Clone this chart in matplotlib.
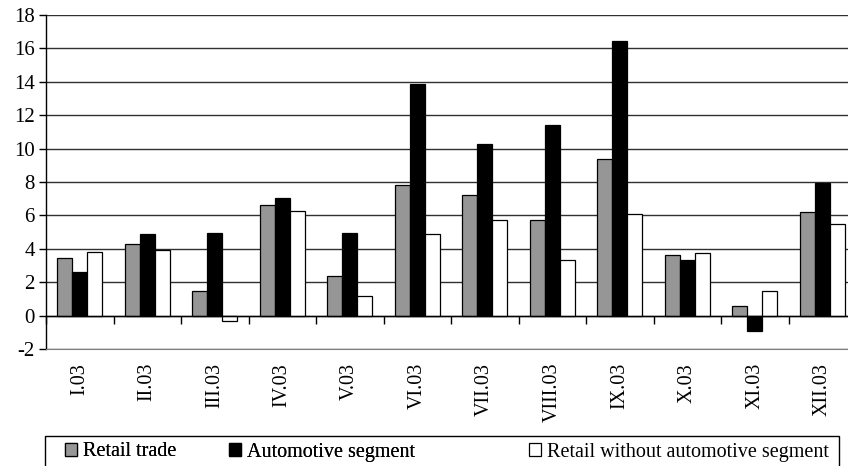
import matplotlib
matplotlib.use("Agg")
import matplotlib.pyplot as plt
import numpy as np
from matplotlib.patches import Rectangle

plt.rcParams['font.family'] = ['Liberation Serif', 'DejaVu Serif']
plt.rcParams['axes.unicode_minus'] = False

months = ["I.03", "II.03", "III.03", "IV.03", "V.03", "VI.03",
          "VII.03", "VIII.03", "IX.03", "X.03", "XI.03", "XII.03"]
retail = [3.45, 4.3, 1.45, 6.6, 2.35, 7.85, 7.2, 5.75, 9.35, 3.6, 0.55, 6.2]
auto = [2.6, 4.9, 4.95, 7.05, 4.95, 13.85, 10.3, 11.4, 16.45, 3.3, -0.9, 7.95]
retail_no_auto = [3.8, 3.95, -0.3, 6.25, 1.15, 4.9, 5.75, 3.3, 6.1, 3.75, 1.45, 5.5]

names = ["Retail trade", "Automotive segment", "Retail without automotive segment"]
colors = ["#969696", "#000000", "#ffffff"]

fig = plt.figure(figsize=(8.48, 4.66), dpi=100)
ax = fig.add_axes([46/848, 1-349/466, 810/848, 334/466])

x = np.arange(len(months))
w = 0.222
for i, (vals, c, n) in enumerate(zip([retail, auto, retail_no_auto], colors, names)):
    ax.bar(x + (i-1)*w, vals, w, color=c, edgecolor="black", linewidth=0.9,
           label=n, zorder=3)

ax.set_xlim(-0.5, 11.5)
ax.set_ylim(-2, 18)
ax.set_yticks(np.arange(-2, 19, 2))
ax.yaxis.grid(True, color="#303030", linewidth=1.0, zorder=0)
ax.set_axisbelow(True)
for s in ["top", "right"]:
    ax.spines[s].set_visible(False)
ax.spines["bottom"].set_color("#808080")
ax.spines["left"].set_linewidth(1.0)
ax.tick_params(axis="y", direction="out", length=5, width=1, labelsize=15, pad=3)
ax.set_xticks(x)
ax.set_xticklabels(months, rotation=90, fontsize=14.5)
ax.tick_params(axis="x", length=0, pad=10)

# zero axis with category-boundary ticks
ax2 = ax.twiny()
ax2.set_xlim(ax.get_xlim())
for s in ["top", "right", "left"]:
    ax2.spines[s].set_visible(False)
ax2.spines["bottom"].set_position(("data", 0))
ax2.spines["bottom"].set_linewidth(1.0)
ax2.xaxis.set_ticks_position("bottom")
ax2.set_xticks(np.arange(-0.5, 12, 1))
ax2.tick_params(axis="x", direction="out", length=6, width=1, labelbottom=False)

h, l = ax.get_legend_handles_labels()
kw = dict(loc="center left", frameon=False, fontsize=14.5, handlelength=0.6,
          handleheight=0.6, handletextpad=0.3)
leg1 = fig.legend(h[:2], l[:2], bbox_to_anchor=(47/848, 1-452/466), ncol=2,
                  columnspacing=2.6, **kw)
fig.add_artist(leg1)
fig.legend(h[2:], l[2:], bbox_to_anchor=(511/848, 1-452/466), **kw)
fig.patches.append(Rectangle((45/848, -0.05), 794/848, 0.05+(466-436)/466,
                             transform=fig.transFigure, fill=False,
                             edgecolor="black", linewidth=1.0))

fig.savefig("out.png", dpi=100)
